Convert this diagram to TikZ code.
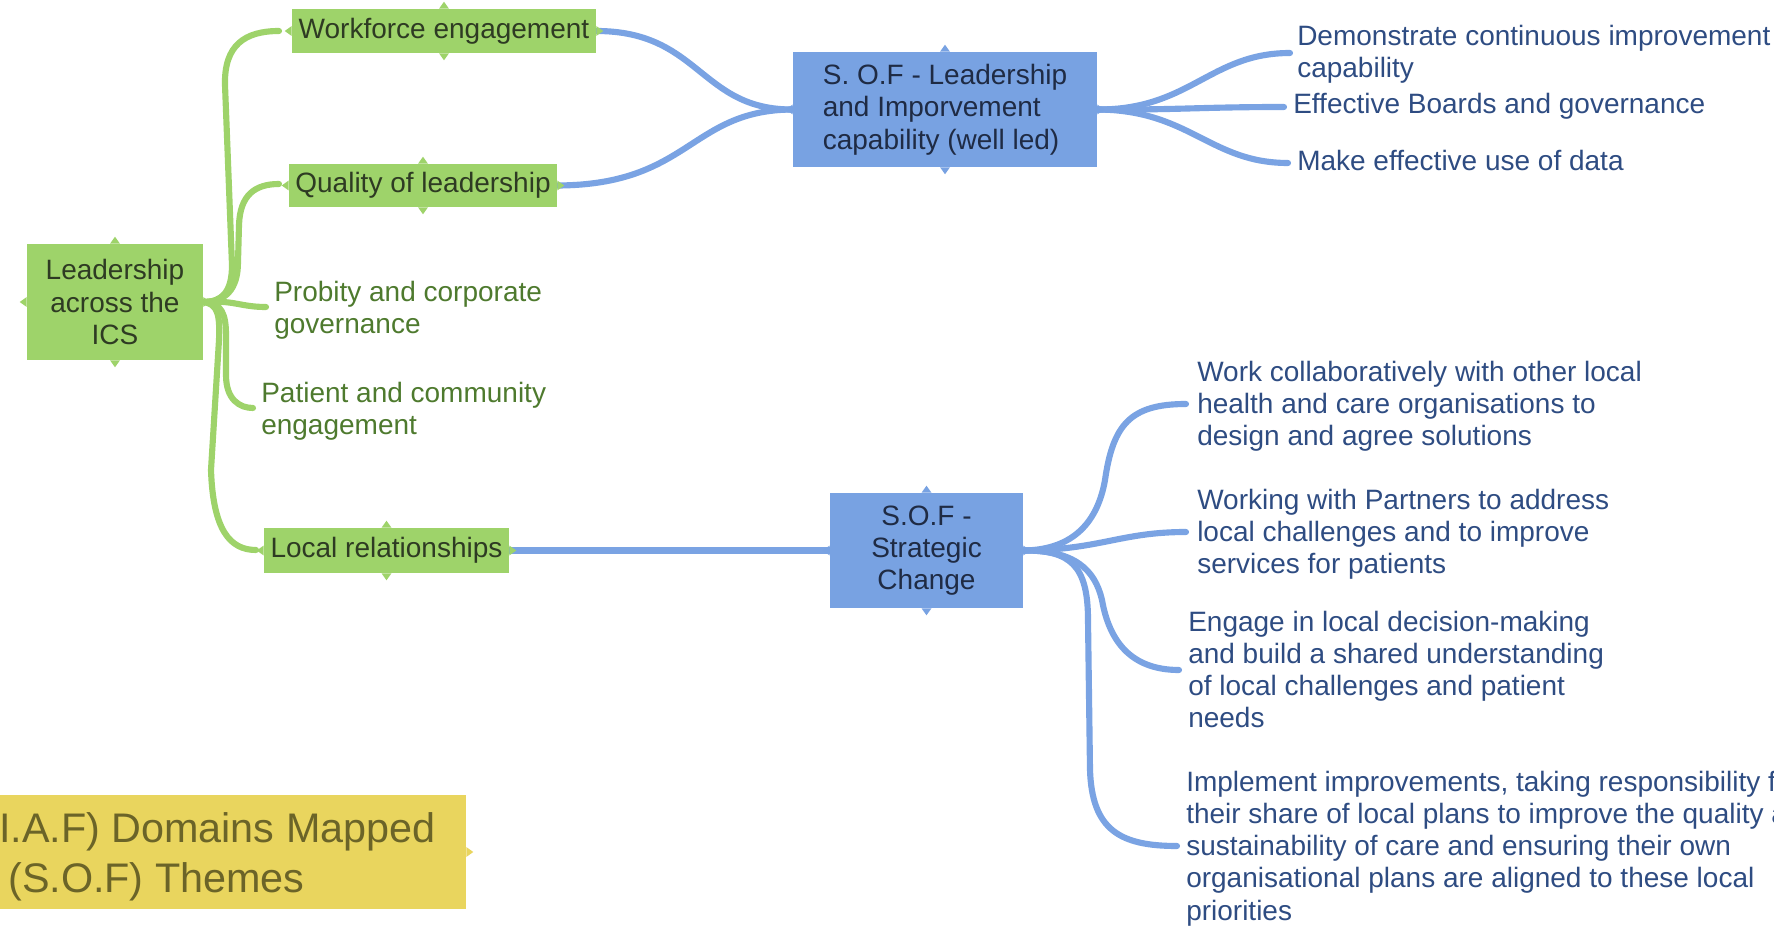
\documentclass[tikz,border=0pt]{standalone}
\usepackage{fontspec}
\setmainfont{Liberation Sans}
\usetikzlibrary{calc}
\pgfdeclarelayer{bg}
\pgfsetlayers{bg,main}
\definecolor{gfill}{HTML}{9ED36A}
\definecolor{gtext}{HTML}{2E3B23}
\definecolor{gleaftext}{HTML}{4E7A2E}
\definecolor{bfill}{HTML}{78A2E2}
\definecolor{bcon}{HTML}{7AA3E3}
\definecolor{btext}{HTML}{1F2B44}
\definecolor{bleaftext}{HTML}{2E4C82}
\definecolor{yfill}{HTML}{E9D55E}
\definecolor{ytext}{HTML}{6B6428}
\newcommand{\nodebumps}[2]{%
 \fill[#2] (#1.north) +(-5,0) -- +(0,-7) -- +(5,0) -- cycle;
 \fill[#2] (#1.south) +(-5,0) -- +(0,7) -- +(5,0) -- cycle;
 \fill[#2] (#1.west) +(0,-5) -- +(-7,0) -- +(0,5) -- cycle;
 \fill[#2] (#1.east) +(0,-5) -- +(7,0) -- +(0,5) -- cycle;}
\begin{document}
\begin{tikzpicture}[x=0.75pt,y=-0.75pt,
 every node/.style={font=\fontsize{21pt}{24.2pt}\selectfont, inner sep=0pt},
 gbox/.style={fill=gfill, text=gtext, align=center},
 bbox/.style={fill=bfill, text=btext},
 gleaf/.style={text=gleaftext, align=left, anchor=base west},
 bleaf/.style={text=bleaftext, align=left, anchor=base west},
 gline/.style={draw=gfill, line width=4.6pt, line cap=round},
 bline/.style={draw=bcon, line width=4.6pt, line cap=round},
 titletext/.style={text=ytext, anchor=base west, font=\fontsize{31pt}{37.4pt}\selectfont}
]
\useasboundingbox (0,0) rectangle (1774,937);
\clip (0,0) rectangle (1774,937);

% boxes
\node[gbox, minimum width=132pt, minimum height=87pt] (root) at (115,302) {Leadership\\across the\\ICS};
\node[gbox, minimum width=228pt, minimum height=33pt] (wf) at (444,31) {Workforce engagement};
\node[gbox, minimum width=201pt, minimum height=32.25pt] (ql) at (423,185.5) {Quality of leadership};
\node[gbox, minimum width=183.75pt, minimum height=33.75pt] (lr) at (386.5,550.5) {Local relationships};
\node[bbox, align=left, minimum width=228pt, minimum height=86.25pt] (sofl) at (945,109.5) {S. O.F - Leadership\\and Imporvement\\capability (well led)};
\node[bbox, align=center, minimum width=144.75pt, minimum height=86.25pt] (sofs) at (926.5,550.5) {S.O.F -\\Strategic\\Change};
\node[fill=yfill, minimum width=364.5pt, minimum height=85.5pt] (title) at (223,852) {};

\nodebumps{root}{gfill}
\nodebumps{wf}{gfill}
\nodebumps{ql}{gfill}
\nodebumps{lr}{gfill}
\nodebumps{sofl}{bfill}
\nodebumps{sofs}{bfill}
\fill[yfill] (title.east) +(0,-5) -- +(7,0) -- +(0,5) -- cycle;

% texts (base anchor = baseline of the last line)
\node[titletext] (t1) at (-15,842) {(I.A.F) Domains Mapped};
\node[titletext] (t2) at (8,892) {(S.O.F) Themes};
\node[gleaf] (prob) at (274,333.3) {Probity and corporate\\governance};
\node[gleaf] (pat) at (261,434.3) {Patient and community\\engagement};
\node[bleaf] (dem) at (1297,77.3) {Demonstrate continuous improvement\\capability};
\node[bleaf] (eff) at (1293,114) {Effective Boards and governance};
\node[bleaf] (mak) at (1297,171) {Make effective use of data};
\node[bleaf] (wk) at (1197,445.6) {Work collaboratively with other local\\health and care organisations to\\design and agree solutions};
\node[bleaf] (pt) at (1197,573.6) {Working with Partners to address\\local challenges and to improve\\services for patients};
\node[bleaf] (eg) at (1188,727.9) {Engage in local decision-making\\and build a shared understanding\\of local challenges and patient\\needs};
\node[bleaf] (im) at (1186,920.2) {Implement improvements, taking responsibility for\\their share of local plans to improve the quality and\\sustainability of care and ensuring their own\\organisational plans are aligned to these local\\priorities};

% free connector ends
\coordinate (wfe) at (279,31);
\coordinate (qle) at (279,184);
\coordinate (pre) at (266,307);
\coordinate (pae) at (253,408);
\coordinate (lre) at (256,550);
\coordinate (deme) at (1290,53);
\coordinate (effe) at (1284,107);
\coordinate (make) at (1288,163);
\coordinate (wke) at (1186,404);
\coordinate (pte) at (1186,532);
\coordinate (ege) at (1179,670);
\coordinate (ime) at (1177,846);

\begin{pgfonlayer}{bg}
\draw[gline] (root.east) .. controls (222,302) and (232,292) .. (232,265) -- (225,85) .. controls (224,45) and (245,31) .. (wfe);
\draw[gline] (root.east) .. controls (225,302) and (238,290) .. (238,262) -- (239,225) .. controls (240,195) and (255,184) .. (qle);
\draw[gline] (root.east) .. controls (235,300) and (240,307) .. (pre);
\draw[gline] (root.east) .. controls (222,302) and (226,315) .. (226,335) -- (226,375) .. controls (226,400) and (240,408) .. (pae);
\draw[gline] (root.east) .. controls (218,304) and (220,315) .. (219,340) -- (211,470) .. controls (213,530) and (230,550) .. (lre);

\draw[bline] (wf.east) .. controls (700,31) and (700,110) .. (sofl.west);
\draw[bline] (ql.east) .. controls (690,185) and (690,110) .. (sofl.west);
\draw[bline] (lr.east) -- (sofs.west);

\draw[bline] (sofl.east) .. controls (1190,110) and (1210,53) .. (deme);
\draw[bline] (sofl.east) .. controls (1180,110) and (1200,107) .. (effe);
\draw[bline] (sofl.east) .. controls (1190,110) and (1210,163) .. (make);

\draw[bline] (sofs.east) .. controls (1075,550) and (1098,520) .. (1105,480) .. controls (1113,425) and (1130,404) .. (wke);
\draw[bline] (sofs.east) .. controls (1100,550) and (1120,532) .. (pte);
\draw[bline] (sofs.east) .. controls (1075,550) and (1095,570) .. (1102,600) .. controls (1109,640) and (1130,670) .. (ege);
\draw[bline] (sofs.east) .. controls (1070,550) and (1088,565) .. (1088,620) -- (1090,770) .. controls (1092,830) and (1120,846) .. (ime);
\end{pgfonlayer}
\end{tikzpicture}
\end{document}
